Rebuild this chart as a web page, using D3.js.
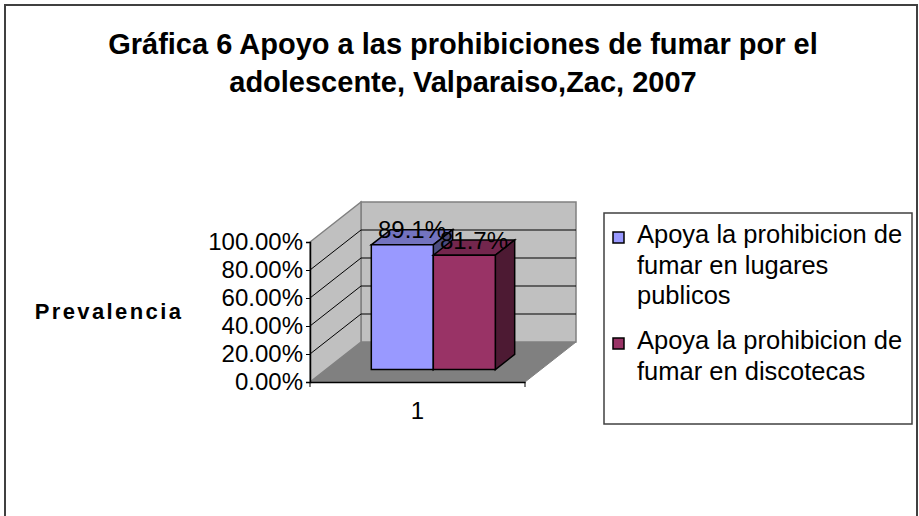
<!DOCTYPE html>
<html>
<head>
<meta charset="utf-8">
<script src="https://cdn.jsdelivr.net/npm/d3@7"></script>
<style>
  body { margin: 0; background: #fff; }
  text { font-family: Arial, "Liberation Sans", sans-serif; }
</style>
</head>
<body>
<svg width="919" height="516"></svg>
<script>
// data
const categories = ["1"];
const seriesNames = [
  "Apoya la prohibicion de fumar en lugares publicos",
  "Apoya la prohibicion de fumar en discotecas"
];
const legendLines = [
  ["Apoya la prohibicion de", "fumar en lugares", "publicos"],
  ["Apoya la prohibicion de", "fumar en discotecas"]
];
const values = [[0.891], [0.817]]; // per series, per category
const yTicks = [0, 0.2, 0.4, 0.6, 0.8, 1.0];
const titleLines = ["Gráfica 6 Apoyo a las prohibiciones de fumar por el", "adolescente, Valparaiso,Zac, 2007"];

const colors = [
  { front: "#9999ff", top: "#7373bf", side: "#4d4d80" },
  { front: "#993366", top: "#73264d", side: "#4d1a33" }
];

const svg = d3.select("svg");

// outer frame
svg.append("rect")
  .attr("x", 5).attr("y", 5)
  .attr("width", 912).attr("height", 540)
  .attr("fill", "#fff")
  .attr("stroke", "#404040")
  .attr("stroke-width", 2);

// title
svg.selectAll(".title")
  .data(titleLines)
  .enter()
  .append("text")
  .attr("x", 463)
  .attr("y", (d, i) => 54 + i * 38)
  .attr("text-anchor", "middle")
  .attr("font-size", "29px")
  .attr("font-weight", "bold")
  .text(d => d);

// 3d plot geometry
const DX = 51, DY = -40; // full depth offset
const y = d3.scaleLinear().domain([0, 1]).range([382, 242]);
const x = d3.scaleBand().domain(categories).range([310, 525]);
const x0 = x.range()[0], x1 = x.range()[1];

const P = (px, v, f) => [px + f * DX, y(v) + f * DY];
const poly = pts => "M" + pts.map(p => p.join(",")).join("L") + "Z";

const g = svg.append("g");

// floor
g.append("path")
  .attr("d", poly([P(x0, 0, 0), P(x1, 0, 0), P(x1, 0, 1), P(x0, 0, 1)]))
  .attr("fill", "#808080").attr("stroke", "#808080");
// back wall
g.append("path")
  .attr("d", poly([P(x0, 0, 1), P(x1, 0, 1), P(x1, 1, 1), P(x0, 1, 1)]))
  .attr("fill", "#c0c0c0").attr("stroke", "#808080").attr("stroke-width", 1.5);
// side wall
g.append("path")
  .attr("d", poly([P(x0, 0, 0), P(x0, 0, 1), P(x0, 1, 1), P(x0, 1, 0)]))
  .attr("fill", "#c0c0c0").attr("stroke", "#808080").attr("stroke-width", 1.5);

// gridlines
g.selectAll(".grid")
  .data(yTicks.filter(t => t > 0 && t < 1))
  .enter()
  .append("path")
  .attr("d", t => "M" + [P(x0, t, 0), P(x0, t, 1), P(x1, t, 1)].map(p => p.join(",")).join("L"))
  .attr("fill", "none")
  .attr("stroke", "#000")
  .attr("stroke-width", 1);

// y axis
const yAxis = d3.axisLeft(y)
  .tickValues(yTicks)
  .tickFormat(d3.format(".2%"))
  .tickSize(4)
  .tickPadding(3);
const ya = svg.append("g")
  .attr("transform", `translate(${x0},0)`)
  .call(yAxis);
ya.select(".domain").attr("stroke", "#000").attr("stroke-width", 1.5);
ya.selectAll("text").attr("font-size", "24px").attr("fill", "#000")
  .attr("font-family", "Arial, 'Liberation Sans', sans-serif");

// x axis (front floor edge)
const xa = svg.append("g")
  .attr("transform", `translate(0,${y(0)})`)
  .call(d3.axisBottom(x).tickSize(0).tickPadding(20));
xa.select(".domain").attr("stroke", "#000").attr("stroke-width", 1.5);
xa.selectAll("text").attr("font-size", "24px").attr("fill", "#000")
  .attr("font-family", "Arial, 'Liberation Sans', sans-serif");
xa.selectAll(".edge")
  .data([x0, x1])
  .enter()
  .append("line")
  .attr("x1", d => d).attr("x2", d => d)
  .attr("y1", 0).attr("y2", 5)
  .attr("stroke", "#000");

// bars
const fFront = 0.31, fBack = 0.69;
const inner = d3.scaleBand().domain(d3.range(seriesNames.length))
  .range([-62, 62]);

categories.forEach((c, ci) => {
  const cx = x(c) + x.bandwidth() / 2;
  seriesNames.forEach((s, si) => {
    const v = values[si][ci];
    const bx0 = cx + inner(si), bx1 = bx0 + inner.bandwidth();
    const col = colors[si];
    const bar = g.append("g");
    // top face
    bar.append("path")
      .attr("d", poly([P(bx0, v, fFront), P(bx1, v, fFront), P(bx1, v, fBack), P(bx0, v, fBack)]))
      .attr("fill", col.top).attr("stroke", "#000").attr("stroke-width", 1.5);
    // side face
    bar.append("path")
      .attr("d", poly([P(bx1, 0, fFront), P(bx1, 0, fBack), P(bx1, v, fBack), P(bx1, v, fFront)]))
      .attr("fill", col.side).attr("stroke", "#000").attr("stroke-width", 1.5);
    // front face
    bar.append("path")
      .attr("d", poly([P(bx0, 0, fFront), P(bx1, 0, fFront), P(bx1, v, fFront), P(bx0, v, fFront)]))
      .attr("fill", col.front).attr("stroke", "#000").attr("stroke-width", 1.5);
  });
  // data labels on top
  seriesNames.forEach((s, si) => {
    const v = values[si][ci];
    const bx0 = cx + inner(si), bx1 = bx0 + inner.bandwidth();
    const mid = P((bx0 + bx1) / 2, v, 0.5);
    svg.append("text")
      .attr("x", mid[0])
      .attr("y", mid[1] + 1)
      .attr("text-anchor", "middle")
      .attr("font-size", "24px")
      .text(d3.format(".1%")(v));
  });
});

// y axis title
svg.append("text")
  .attr("x", 109)
  .attr("y", 319)
  .attr("text-anchor", "middle")
  .attr("font-size", "22px")
  .attr("font-weight", "bold")
  .attr("letter-spacing", "2.4px")
  .text("Prevalencia");

// legend
const legend = svg.append("g");
legend.append("rect")
  .attr("x", 604).attr("y", 213)
  .attr("width", 308).attr("height", 211)
  .attr("fill", "#fff")
  .attr("stroke", "#404040")
  .attr("stroke-width", 1.5);

const legendTop = [243, 349];
seriesNames.forEach((s, si) => {
  legend.append("rect")
    .attr("x", 613).attr("y", legendTop[si] - 11)
    .attr("width", 11).attr("height", 11)
    .attr("fill", colors[si].front)
    .attr("stroke", "#000").attr("stroke-width", 1.5);
  legend.append("text")
    .attr("font-size", "25.5px")
    .selectAll("tspan")
    .data(legendLines[si])
    .enter()
    .append("tspan")
    .attr("x", 637)
    .attr("y", (d, i) => legendTop[si] + i * 30.5)
    .text(d => d);
});
</script>
</body>
</html>
